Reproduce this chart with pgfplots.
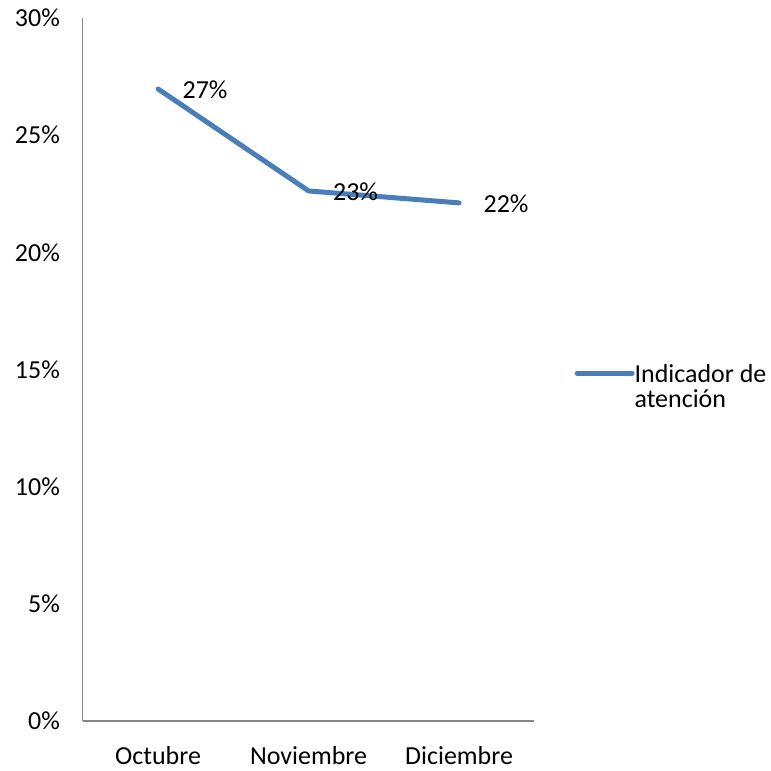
\documentclass[border=0pt]{standalone}
\usepackage{fontspec}
\setmainfont{Carlito}
\usepackage{pgfplots}
\usepackage{pgfplotstable}
\pgfplotsset{compat=1.18}
\definecolor{lineblue}{RGB}{74,126,187}
\definecolor{axisgray}{RGB}{134,134,134}
\pgfplotstableread{
x val lab
0 26.97 27
1 22.62 23
2 22.11 22
}\datatable
\begin{document}
\begin{tikzpicture}[font=\fontsize{13}{15.6}\selectfont]
\path (0,0) rectangle (385.5pt,385pt);
\begin{axis}[
  at={(41.5pt,24pt)}, anchor=south west,
  width=226pt, height=352pt, scale only axis,
  xmin=-0.5, xmax=2.5, ymin=0, ymax=30,
  axis lines*=left,
  axis line style={draw=axisgray, line width=0.6pt, -},
  xtick={0,1,2}, xticklabels={Octubre,Noviembre,Diciembre},
  ytick={0,5,10,15,20,25,30},
  yticklabels={0\%,5\%,10\%,15\%,20\%,25\%,30\%},
  major tick length=0pt,
  yticklabel style={xshift=-8pt},
  xticklabel style={yshift=-9pt},
  clip=false,
  legend style={draw=none, fill=none, inner sep=0pt,
    at={(rel axis cs:1.0885,0.5135)}, anchor=north west,
    nodes={inner sep=0pt, anchor=base west},
    /tikz/every even column/.append style={column sep=2pt}},
  legend image code/.code={\draw[#1,mark=none] (0pt,4.5pt) -- (27.5pt,4.5pt);},
]
\addplot[color=lineblue, line width=2.5pt, mark=none, line cap=round, line join=round,
  point meta=explicit symbolic,
  nodes near coords={\pgfplotspointmeta\%},
  nodes near coords style={anchor=west, xshift=7.7pt, yshift=-0.5pt, text=black}]
  table[x=x, y=val, meta=lab] {\datatable};
\addlegendentry{\begin{tabular}[t]{@{}l@{}}Indicador de\\[-3pt]atención\end{tabular}}
\end{axis}
\end{tikzpicture}
\end{document}
